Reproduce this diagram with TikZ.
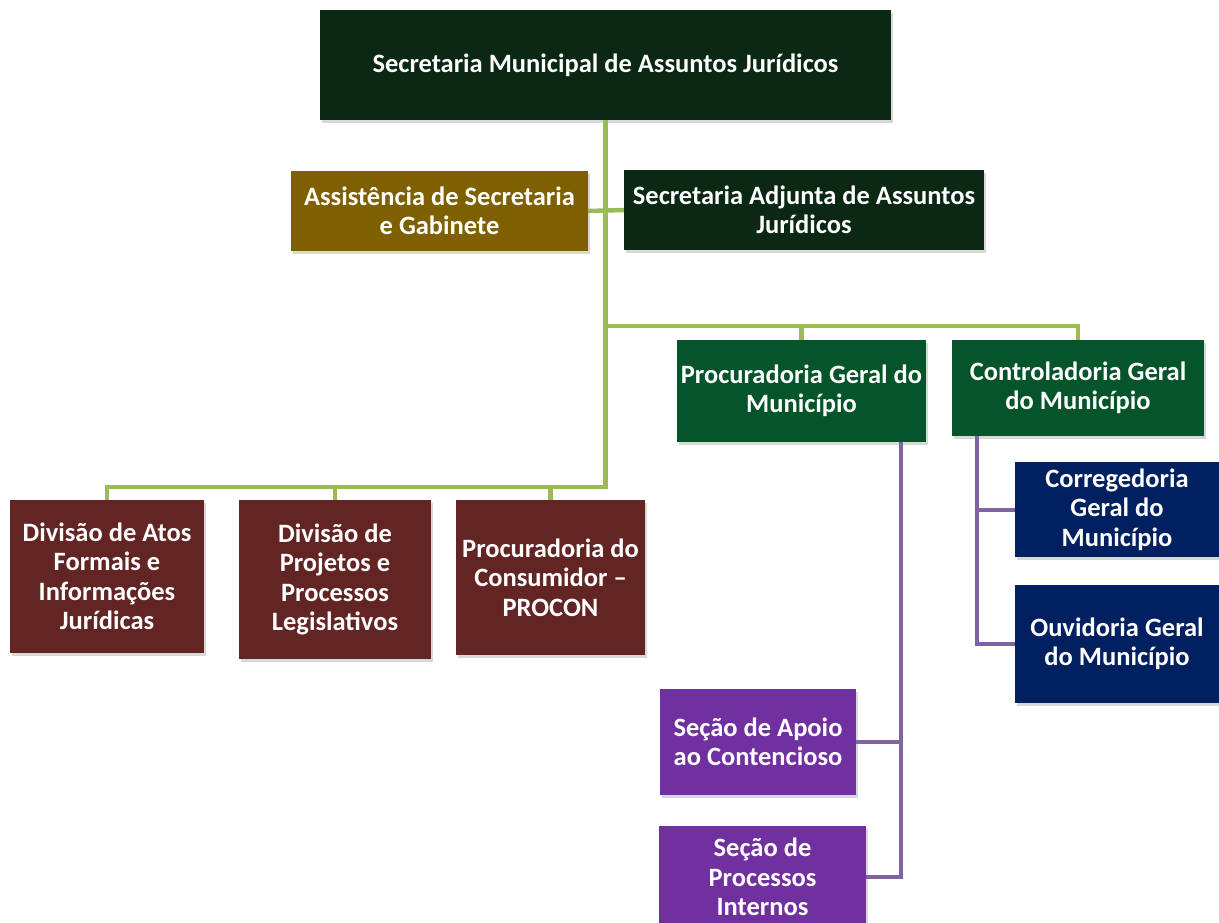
\documentclass[tikz,border=0pt]{standalone}
\usepackage{fontspec}
\setmainfont{Carlito}
\usetikzlibrary{shadows}

\definecolor{topgreen}{HTML}{0A2814}
\definecolor{olive}{HTML}{7F6000}
\definecolor{midgreen}{HTML}{05542A}
\definecolor{maroon}{HTML}{632523}
\definecolor{navy}{HTML}{002060}
\definecolor{violet}{HTML}{7030A0}
\definecolor{greenline}{HTML}{9BBB59}
\definecolor{violetline}{HTML}{8064A2}

\tikzset{
  box/.style={rectangle, inner sep=0pt, align=center, text=white,
    font=\fontsize{26.5}{29.5}\selectfont\bfseries,
    drop shadow={opacity=0.3, shadow xshift=2pt, shadow yshift=-3pt}},
  gline/.style={draw=greenline, line width=4.5pt},
  pline/.style={draw=violetline, line width=4pt}
}

\begin{document}
\begin{tikzpicture}[x=1pt, y=-1pt]
\useasboundingbox (0,0) rectangle (1219,923);
\fill[white] (0,0) rectangle (1219,923);

% top levels
\node[box, fill=topgreen, minimum width=571pt, minimum height=110pt] (sec) at (605.5,65)
  {Secretaria Municipal de Assuntos Jurídicos};
\node[box, fill=olive, minimum width=297pt, minimum height=80pt] (assist) at (439.5,211)
  {Assistência de Secretaria\\e Gabinete};
\node[box, fill=topgreen, minimum width=360pt, minimum height=80pt] (adjunta) at (804,210)
  {Secretaria Adjunta de Assuntos\\Jurídicos};
\node[box, fill=midgreen, minimum width=249pt, minimum height=102pt] (pgm) at (801.5,391)
  {Procuradoria Geral do\\Município};
\node[box, fill=midgreen, minimum width=252pt, minimum height=96pt] (cgm) at (1078,388)
  {Controladoria Geral\\do Município};

% divisoes
\node[box, fill=maroon, minimum width=194pt, minimum height=153pt] (atos) at (107,576.5)
  {Divisão de Atos\\Formais e\\Informações\\Jurídicas};
\node[box, fill=maroon, minimum width=192pt, minimum height=159pt] (projetos) at (335,579.5)
  {Divisão de\\Projetos e\\Processos\\Legislativos};
\node[box, fill=maroon, minimum width=189pt, minimum height=155pt] (procon) at (550.5,577.5)
  {Procuradoria do\\Consumidor --\\PROCON};

% controladoria
\node[box, fill=navy, minimum width=204pt, minimum height=95pt] (correg) at (1117,509.5)
  {Corregedoria\\Geral do\\Município};
\node[box, fill=navy, minimum width=204pt, minimum height=118pt] (ouvid) at (1117,644)
  {Ouvidoria Geral\\do Município};

% secoes
\node[box, fill=violet, minimum width=196pt, minimum height=106pt] (apoio) at (758,742)
  {Seção de Apoio\\ao Contencioso};
\node[box, fill=violet, minimum width=207pt, minimum height=102pt] (internos) at (762.5,877)
  {Seção de\\Processos\\Internos};

% green connectors
\coordinate (mid) at (sec.south |- 0,326);
\coordinate (bus) at (sec.south |- 0,487);
\path[gline] (assist.east) -- (adjunta.west);
\path[gline] (sec.south) -- (bus) -- (bus -| atos.north) -- (atos.north);
\path[gline] (projetos.north) -- (projetos.north |- bus);
\path[gline] (procon.north) -- (procon.north |- bus);
\path[gline] (mid) -| (pgm.north);
\path[gline] (mid) -| (cgm.north);

% violet connectors
\coordinate (pv) at ([xshift=-25pt]pgm.south east);
\coordinate (cv) at ([xshift=25pt]cgm.south west);
\path[pline] (pv) |- (internos.east);
\path[pline] (apoio.east) -- (apoio.east -| pv);
\path[pline] (cv) |- (ouvid.west);
\path[pline] (correg.west) -- (correg.west -| cv);
\end{tikzpicture}
\end{document}
